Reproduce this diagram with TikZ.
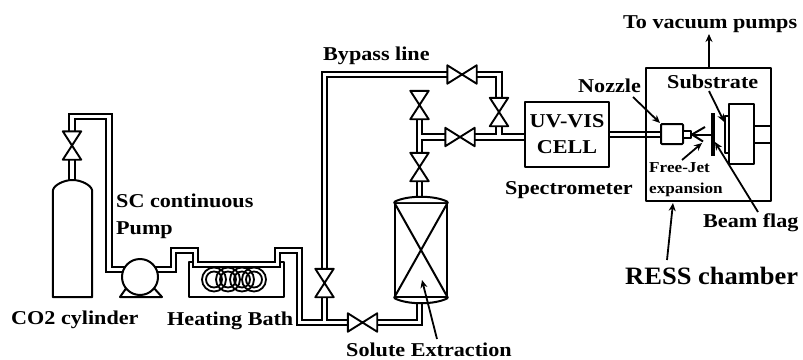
\documentclass[tikz,border=0pt]{standalone}
\usepackage{fontspec}
\setmainfont[FakeStretch=1.13]{Liberation Serif}
\newfontfamily\ressfont[FakeStretch=1.06]{Liberation Serif}
\usetikzlibrary{arrows.meta,calc}
\tikzset{
  x=1pt,y=-1pt,
  ink/.style={line width=2pt,line join=round},
  valveink/.style={line width=1.9pt,line join=round,fill=white},
  boxed/.style={draw,ink,fill=white,rectangle,inner sep=0pt},
  valveH/.style={inner sep=0pt,minimum width=29pt,minimum height=18pt},
  valveV/.style={inner sep=0pt,minimum width=18pt,minimum height=28pt},
  pipeout/.style={line width=7.2pt,line join=miter,black},
  pipein/.style={line width=3.4pt,line join=miter,white},
  lead/.style={line width=1.8pt,-{Stealth[length=8pt,width=7pt]}},
  lab/.style={font=\bfseries\fontsize{19.6}{19.6}\selectfont,inner sep=0pt,anchor=base west},
  labsmall/.style={font=\bfseries\fontsize{15.2}{15.2}\selectfont,inner sep=0pt,anchor=base west},
  labbig/.style={font=\ressfont\bfseries\fontsize{25}{25}\selectfont,inner sep=0pt,anchor=base west},
}
\begin{document}
\begin{tikzpicture}
\useasboundingbox (0,0) rectangle (803,359);
% named positions
\node[valveV] (v1) at (72,145.5) {};
\node[valveV] (v2) at (324.5,283) {};
\node[valveH] (v3) at (362.5,322.5) {};
\node[valveV] (v4) at (419.5,167) {};
\node[valveV] (v5) at (419.5,105) {};
\node[valveH] (v6) at (460,137) {};
\node[valveV] (v7) at (499,112) {};
\node[valveH] (v8) at (462,74.5) {};
\node[inner sep=0pt,minimum size=36pt,circle] (pump) at (140,277) {};
\coordinate (cylneck) at (72,181);
\coordinate (a1) at (72,116.5);
\coordinate (a2) at (109,116.5);
\coordinate (a3) at (109,269.5);
\coordinate (pumpin) at (140,269.5);
\coordinate (b1) at (173.5,269.5);
\coordinate (b2) at (173.5,250.5);
\coordinate (b3) at (195.5,250.5);
\coordinate (b4) at (195.5,264.5);
\coordinate (b5) at (277.5,264.5);
\coordinate (b6) at (277.5,250.5);
\coordinate (b7) at (299.5,250.5);
\coordinate (b8) at (299.5,322.5);
\coordinate (j1) at (324.5,322.5);
\coordinate (c1) at (419.5,322.5);
\coordinate (c2) at (419.5,300);
\coordinate (d1) at (419.5,198);
\coordinate (j2) at (419.5,137);
\coordinate (j3) at (499,137);
\coordinate (e1) at (527,137);
\coordinate (f1) at (499,74.5);
\coordinate (f2) at (324.5,74.5);
\coordinate (g1) at (607,134.5);
\coordinate (g2) at (663,134.5);
% pipes: outer pass then inner pass, so that T-junctions stay open
\newcommand{\pipeset}{
 (cylneck) -- (v1.center) -- (a1) -- (a2) -- (a3) -- (pumpin) -- (b1) -- (b2) -- (b3) -- (b4) -- (b5) -- (b6) -- (b7) -- (b8) -- (j1) -- (v3.center) -- (c1) -- (c2)
 (j1) -- (v2.center) -- (f2) -- (v8.center) -- (f1) -- (v7.center) -- (j3)
 (d1) -- (v4.center) -- (j2) -- (v5.center)
 (j2) -- (v6.center) -- (j3) -- (e1)
 (g1) -- (g2)
}
% water bath
\node[boxed,minimum width=95pt,minimum height=35pt] (bath) at (236.5,279.5) {};
\foreach \cx in {214,228,242,254}{
  \draw[line width=1.8pt] (\cx,279.5) circle (12);
  \draw[line width=1.8pt] (\cx,279.5) circle (8);
}
\draw[pipeout] \pipeset;
\draw[pipein] \pipeset;
% valves
\foreach \v in {v1,v2,v4,v5,v7}{
  \fill[white] (\v.north west) rectangle (\v.south east);
  \draw[valveink] (\v.north west) -- (\v.south east) -- (\v.south west) -- (\v.north east) -- cycle;
}
\foreach \v in {v3,v6,v8}{
  \fill[white] (\v.north west) rectangle (\v.south east);
  \draw[valveink] (\v.north west) -- (\v.south east) -- (\v.north east) -- (\v.south west) -- cycle;
}
% cylinder
\node[inner sep=0pt,minimum width=39pt,minimum height=117pt] (cyl) at (72.5,238.5) {};
\draw[ink,fill=white] (cyl.south west) -- (53,190) .. controls (54,185) and (64,180) .. (72.5,180) .. controls (81,180) and (91,185) .. (92,190) -- (cyl.south east) -- cycle;
% pump
\draw[ink,fill=white] (127,287) -- (120,297) -- (162,297) -- (153,287);
\node[boxed,circle,minimum size=36pt] (pumpb) at (pump) {};
% extraction vessel
\node[boxed,minimum width=52pt,minimum height=94pt] (vessel) at (421,250) {};
\draw[ink,fill=white] (vessel.north west) .. controls (407,195) and (435,195) .. (vessel.north east);
\draw[ink,fill=white] (vessel.south west) .. controls (407,305) and (435,305) .. (vessel.south east);
\draw[ink] (vessel.north west) -- (vessel.south east) (vessel.north east) -- (vessel.south west);
% cell
\node[boxed,minimum width=84pt,minimum height=65pt,align=center,font=\bfseries\fontsize{19.6}{26}\selectfont] (cell) at (567,134.5) {UV-VIS\\CELL};
% chamber
\node[draw,ink,inner sep=0pt,minimum width=125pt,minimum height=133pt] (chamber) at (708.5,134.5) {};
\node[boxed,minimum width=22pt,minimum height=20pt,rounded corners=1pt] (nozzle) at (672,134) {};
\node[boxed,minimum width=8pt,minimum height=7pt] (tip) at (687,134.5) {};
\node[inner sep=0pt,minimum width=3.5pt,minimum height=43pt,fill=black] (flag) at (713,134.5) {};
\node[boxed,minimum width=3.5pt,minimum height=37pt] (sub) at (727,134.5) {};
\node[boxed,minimum width=25pt,minimum height=60pt] (block) at (741.5,134) {};
\draw[ink] (block.east |- 0,126) -- (chamber.east |- 0,126);
\draw[ink] (block.east |- 0,143) -- (chamber.east |- 0,143);
\draw[ink] (tip.east) -- (705,127);
\draw[ink] (tip.east) -- (flag.west);
\draw[ink] (tip.east) -- (703,141.5);
% labels
\node[lab] (lco) at (11,324) {CO2 cylinder};
\node[lab] (lsc) at (116,207) {SC continuous};
\node[lab] (lpu) at (116,234) {Pump};
\node[lab] (lhb) at (167,325) {Heating Bath};
\node[lab] (lby) at (323,60) {Bypass line};
\node[lab] (lse) at (346,356) {Solute Extraction};
\node[lab] (lsp) at (505,194) {Spectrometer};
\node[lab] (lno) at (578,92) {Nozzle};
\node[lab] (lsu) at (667,88) {Substrate};
\node[lab] (lto) at (623,28) {To vacuum pumps};
\node[lab] (lbf) at (703,227) {Beam flag};
\node[labsmall] (lfj) at (649,172) {Free-Jet};
\node[labsmall] (lex) at (649,193) {expansion};
\node[labbig] (lre) at (625,284) {RESS chamber};
% leaders
\coordinate (tvac) at (709,34);
\draw[lead] (chamber.north -| tvac) -- (tvac);
\coordinate (t1) at (422,280);
\draw[lead] (437,339) -- (t1);
\draw[lead] (633,97) -- (nozzle.north west);
\draw[lead] (709,91) -- (sub.north west |- 0,122);
\draw[lead] (758,212) -- (flag.east |- 0,142);
\draw[lead] (682,160) -- (702,143);
\draw[lead] (667,260) -- (673,203);
\end{tikzpicture}
\end{document}
